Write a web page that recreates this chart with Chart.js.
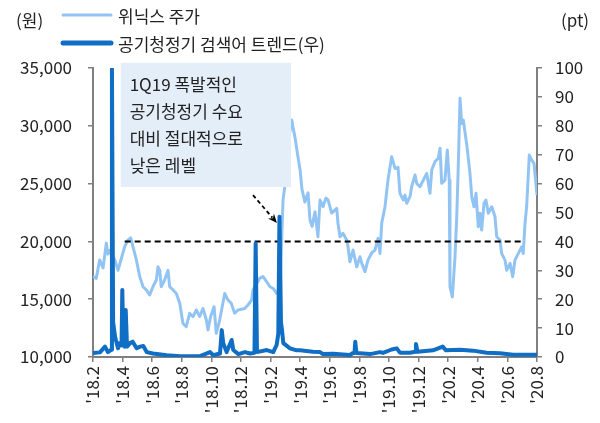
<!DOCTYPE html>
<html>
<head>
<meta charset="utf-8">
<script src="https://cdn.jsdelivr.net/npm/chart.js@4.4.1/dist/chart.umd.min.js"></script>
<style>
  body { margin: 0; background: #fff; }
  canvas { display: block; }
</style>
</head>
<body>
<canvas id="myChart" width="600" height="423"></canvas>
<script>
  // x = months since Feb 2018 ('18.2 = 0)
  const tickLabels = ["'18.2", "'18.4", "'18.6", "'18.8", "'18.10", "'18.12", "'19.2", "'19.4",
    "'19.6", "'19.8", "'19.10", "'19.12", "'20.2", "'20.4", "'20.6", "'20.8"];

  // 위닉스 주가 (원)
  const stockX = [0.00, 0.22, 0.45, 0.68, 0.90, 1.01, 1.13, 1.47, 1.69, 1.91, 2.14, 2.36, 2.55, 2.70, 2.93,
    3.16, 3.38, 3.60, 3.83, 4.05, 4.28, 4.39, 4.51, 4.61, 4.84, 5.07, 5.18, 5.41, 5.63, 5.86,
    6.08, 6.30, 6.53, 6.76, 6.98, 7.21, 7.43, 7.66, 7.77, 7.95, 8.18, 8.33, 8.56, 8.90, 9.12,
    9.34, 9.57, 9.80, 10.25, 10.47, 10.72, 10.81, 11.28, 11.49, 11.74, 11.96, 12.18, 12.41, 12.64, 12.84,
    13.04, 13.24, 13.43, 13.51, 13.65, 13.85, 13.99, 14.12, 14.32, 14.53, 14.66, 14.80, 15.00, 15.20, 15.34,
    15.54, 15.74, 15.88, 16.13, 16.47, 16.55, 16.69, 16.89, 17.14, 17.23, 17.36, 17.57, 17.82, 18.04, 18.16,
    18.38, 18.58, 18.83, 19.05, 19.26, 19.39, 19.51, 19.73, 19.93, 20.18, 20.41, 20.61, 20.74, 20.97, 21.08,
    21.20, 21.42, 21.53, 21.76, 21.87, 22.09, 22.32, 22.55, 22.77, 22.89, 23.11, 23.33, 23.45, 23.56, 23.78,
    23.94, 24.07, 24.12, 24.28, 24.46, 24.57, 24.68, 24.80, 24.91, 25.02, 25.14, 25.27, 25.47, 25.59, 25.74,
    25.88, 26.03, 26.15, 26.26, 26.42, 26.55, 26.71, 26.94, 27.16, 27.28, 27.50, 27.61, 27.84, 27.95, 28.18,
    28.36, 28.51, 28.74, 28.97, 29.07, 29.19, 29.30, 29.48, 29.64, 29.80, 30.00];
  const stockY = [16950, 16800, 18400, 17700, 19850, 18900, 19200, 18400, 17500, 18500, 19540, 20120, 20300, 19540, 18400,
    16950, 16080, 15800, 15360, 16080, 16660, 17800, 17500, 16080, 16660, 17500, 16080, 15800, 15500, 14650,
    12900, 12620, 13780, 13500, 14070, 13500, 14200, 13200, 12330, 13500, 14350, 12050, 13200, 15500, 14930,
    14650, 13780, 14070, 14200, 14500, 14930, 15800, 16830, 16950, 16500, 16080, 15930, 15500, 16000, 23580,
    25500, 29000, 30500, 29900, 29000, 27300, 26200, 24500, 23400, 24200, 21850, 21300, 22570, 20400, 23580,
    23000, 23750, 23600, 22450, 22850, 21600, 20400, 20700, 20120, 19540, 18240, 19250, 17800, 18670, 18100,
    17380, 18380, 19000, 19250, 20260, 18960, 21600, 23000, 25300, 27330, 26300, 26400, 24160, 23580, 24000,
    23300, 23870, 24730, 25750, 25020, 24730, 25300, 25890, 24160, 26200, 26900, 27200, 28050, 25020, 25300,
    27900, 25300, 16080, 15200, 18680, 21850, 26460, 32380, 30200, 30500, 29400, 28200, 25900, 23870, 23000,
    24160, 21270, 22430, 20980, 23300, 23580, 22430, 23000, 22150, 20400, 20120, 18960, 18380, 17500, 18100,
    16950, 18380, 18960, 19540, 18960, 21560, 23000, 27470, 27040, 26750, 24000];

  // 공기청정기 검색어 트렌드 (pt, 우)
  const trendX = [0.00, 0.47, 0.81, 1.01, 1.22, 1.28, 1.36, 1.49, 1.60, 1.69, 1.82, 1.93, 1.98, 2.05, 2.13,
    2.21, 2.30, 2.50, 2.68, 2.95, 3.18, 3.40, 3.63, 4.05, 4.98, 5.88, 7.23, 7.91, 8.13, 8.58,
    8.70, 8.80, 9.03, 9.37, 9.48, 9.82, 10.27, 10.61, 10.91, 10.99, 11.08, 11.74, 12.18, 12.41, 12.52,
    12.60, 12.70, 12.77, 12.86, 13.31, 13.76, 13.99, 14.86, 15.34, 15.54, 16.22, 17.36, 17.57, 17.67, 17.72,
    17.80, 18.72, 19.39, 19.59, 20.18, 20.52, 20.74, 21.42, 21.76, 21.82, 21.93, 22.97, 23.63, 23.85, 24.80,
    25.68, 26.60, 27.50, 28.38, 30.00];
  const trendY = [1.4, 1.6, 3.6, 1.7, 2.5, 100, 12, 7, 4.8, 3, 4.8, 4, 23.2, 4, 3.6,
    16.3, 3.6, 4.8, 5.3, 3, 3.6, 3.8, 1.7, 1.2, 0.6, 0.3, 0.3, 1.7, 0.6, 1.2,
    9.3, 4.8, 1.7, 5.9, 2.4, 1, 1.7, 1.2, 1.5, 39.3, 1.7, 2.4, 1.7, 4.2, 8,
    48.5, 12, 9.3, 4.8, 3, 2.3, 2.3, 1.8, 1.7, 1, 1.1, 0.7, 1.4, 1.4, 5.3,
    1.4, 1, 1.7, 1.4, 2.6, 3, 1.5, 1.5, 1.8, 4.5, 1.8, 2.3, 3.6, 2.3, 2.5,
    2.2, 1.5, 1.3, 0.8, 0.8];

  const refLevel = 20000;
  const refRange = [2.14, 29.05];

  const noteLines = ['1Q19 폭발적인', '공기청정기 수요', '대비 절대적으로', '낮은 레벨'];

  const lightBlue = 'rgb(146,196,243)';
  const darkBlue = 'rgb(16,110,196)';
  const axisGray = '#808080';
  const fontFamily = "'Noto Sans CJK KR', 'Noto Sans', sans-serif";

  function toPoints(xs, ys) {
    return xs.map(function (x, i) { return {x: x, y: ys[i]}; });
  }

  // legend, unit labels, note box and arrow
  const extras = {
    id: 'extras',
    afterDraw(chart) {
      const ctx = chart.ctx;
      const xs = chart.scales.x, ys = chart.scales.y;
      ctx.save();
      ctx.font = '17px ' + fontFamily;
      ctx.fillStyle = '#222';
      ctx.textBaseline = 'middle';

      // unit labels
      ctx.textAlign = 'left';
      ctx.fillText('(원)', 16, 21);
      ctx.fillText('(pt)', 561, 21);

      // legend
      ctx.lineCap = 'round';
      ctx.strokeStyle = lightBlue; ctx.lineWidth = 3;
      ctx.beginPath(); ctx.moveTo(63, 15); ctx.lineTo(111, 15); ctx.stroke();
      ctx.strokeStyle = darkBlue; ctx.lineWidth = 5;
      ctx.beginPath(); ctx.moveTo(63, 43); ctx.lineTo(111, 43); ctx.stroke();
      ctx.fillText('위닉스 주가', 118, 17);
      ctx.fillText('공기청정기 검색어 트렌드(우)', 118, 45);

      // note box
      const bx0 = xs.getPixelForValue(1.87), bx1 = xs.getPixelForValue(13.38);
      const by0 = ys.getPixelForValue(35450), by1 = ys.getPixelForValue(24700);
      ctx.fillStyle = 'rgb(228,238,249)';
      ctx.fillRect(bx0, by0, bx1 - bx0, by1 - by0);
      ctx.fillStyle = '#222';
      noteLines.forEach(function (t, i) {
        ctx.fillText(t, bx0 + 9, by0 + 22 + i * 27);
      });

      // dashed arrow
      const ax0 = xs.getPixelForValue(10.81), ay0 = ys.getPixelForValue(24000);
      const ax1 = xs.getPixelForValue(12.43), ay1 = ys.getPixelForValue(21600);
      const ang = Math.atan2(ay1 - ay0, ax1 - ax0);
      ctx.strokeStyle = '#000'; ctx.lineWidth = 1.8; ctx.lineCap = 'butt';
      ctx.setLineDash([4, 3]);
      ctx.beginPath(); ctx.moveTo(ax0, ay0);
      ctx.lineTo(ax1 - 7 * Math.cos(ang), ay1 - 7 * Math.sin(ang)); ctx.stroke();
      ctx.setLineDash([]);
      ctx.fillStyle = '#000';
      ctx.beginPath();
      ctx.moveTo(ax1, ay1);
      ctx.lineTo(ax1 - 10 * Math.cos(ang - 0.4), ay1 - 10 * Math.sin(ang - 0.4));
      ctx.lineTo(ax1 - 6 * Math.cos(ang), ay1 - 6 * Math.sin(ang));
      ctx.lineTo(ax1 - 10 * Math.cos(ang + 0.4), ay1 - 10 * Math.sin(ang + 0.4));
      ctx.closePath(); ctx.fill();
      ctx.restore();
    }
  };

  const data = {
    datasets: [{
      label: '위닉스 주가',
      data: toPoints(stockX, stockY),
      yAxisID: 'y',
      borderColor: lightBlue,
      borderWidth: 3,
      borderJoinStyle: 'round',
      pointRadius: 0,
      order: 3,
    }, {
      label: '기준선',
      data: toPoints(refRange, [refLevel, refLevel]),
      yAxisID: 'y',
      borderColor: '#000',
      borderWidth: 2,
      borderDash: [6, 4],
      pointRadius: 0,
      order: 2,
    }, {
      label: '공기청정기 검색어 트렌드(우)',
      data: toPoints(trendX, trendY),
      yAxisID: 'y1',
      borderColor: darkBlue,
      borderWidth: 4,
      borderJoinStyle: 'round',
      pointRadius: 0,
      order: 1,
    }]
  };

  const tickFont = {family: fontFamily, size: 17};
  const gridOpts = {drawOnChartArea: false, drawTicks: true, tickLength: 5, color: axisGray, lineWidth: 1.5};
  const borderOpts = {display: true, color: axisGray, width: 2};

  const config = {
    type: 'line',
    data: data,
    plugins: [extras],
    options: {
      responsive: false,
      animation: false,
      devicePixelRatio: 1,
      layout: {padding: {top: 68, left: 0, right: 0, bottom: 0}},
      plugins: {legend: {display: false}, tooltip: {enabled: false}},
      scales: {
        x: {
          type: 'linear', min: 0, max: 30,
          ticks: {
            stepSize: 2, autoSkip: false, minRotation: 90, maxRotation: 90, padding: 4,
            color: '#222', font: tickFont,
            callback: function (v) { return tickLabels[Math.round(v / 2)]; }
          },
          grid: gridOpts, border: borderOpts,
          afterFit: function (s) { s.height = 66; }
        },
        y: {
          position: 'left', min: 10000, max: 35000,
          ticks: {
            stepSize: 5000, padding: 16, color: '#222', font: tickFont,
            callback: function (v) { return v.toLocaleString('en-US'); }
          },
          grid: gridOpts, border: borderOpts,
          afterFit: function (s) { s.width = 93; }
        },
        y1: {
          position: 'right', min: 0, max: 100,
          ticks: {stepSize: 10, padding: 13, color: '#222', font: tickFont},
          grid: gridOpts, border: borderOpts,
          afterFit: function (s) { s.width = 63; }
        }
      }
    }
  };

  const myChart = new Chart(document.getElementById('myChart'), config);
</script>
</body>
</html>
